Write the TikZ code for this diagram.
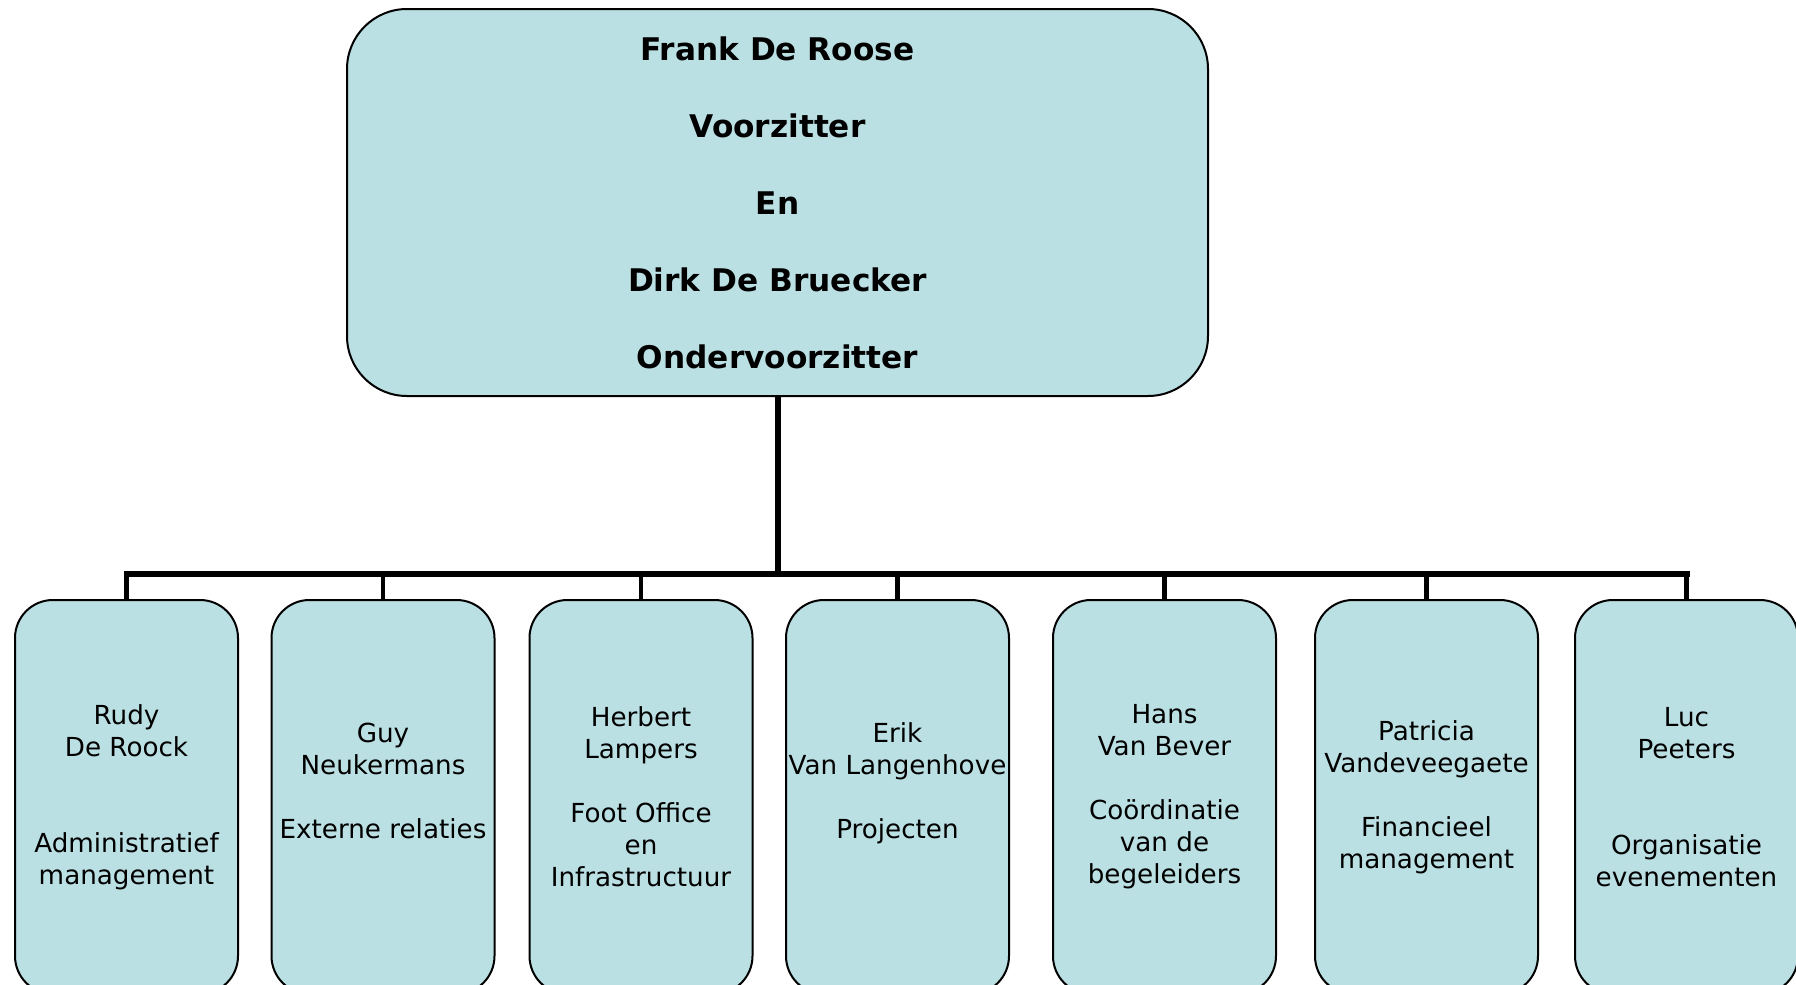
\documentclass[tikz,border=0pt]{standalone}
\usepackage{fontspec}
\setmainfont{DejaVu Sans}
\usetikzlibrary{positioning}

\definecolor{boxblue}{RGB}{187,224,227}

\tikzset{
    chief/.style  = {draw, fill = boxblue, line width = 1pt, rounded corners = 30pt,
                     minimum width = 430.5pt, minimum height = 193.5pt, align = center,
                     font = \bfseries\fontsize{15.6}{38.5}\selectfont},
    member/.style = {draw, fill = boxblue, line width = 1pt, rounded corners = 19pt,
                     minimum width = 111.5pt, minimum height = 197pt, inner sep = 0pt,
                     align = center, font = \fontsize{13.1}{16}\selectfont},
    bus/.style    = {line width = 3pt, line cap = rect},
    drop/.style   = {line width = 2.3pt}
}

\begin{document}
\begin{tikzpicture}[x = 0.5pt, y = -0.5pt, black]

    \clip[use as bounding box] (0,0) rectangle (1796,985);

    \def\busY{574}
    \def\rowY{797}

    \node[chief] (Board) at (777.5,202.5)
        {Frank De Roose\\Voorzitter\\En\\Dirk De Bruecker\\Ondervoorzitter};

    \foreach \NAME/\X/\TEXT in {
        Rudy/126.5/{Rudy\\De Roock\\[32pt]Administratief\\management},
        Guy/383/{Guy\\Neukermans\\[16pt]Externe relaties\\\mbox{}},
        Herbert/641/{Herbert\\Lampers\\[16pt]Foot Office\\en\\Infrastructuur},
        Erik/897.5/{Erik\\Van Langenhove\\[16pt]Projecten\\\mbox{}},
        Hans/1164.5/{Hans\\Van Bever\\[16pt]Co\"ordinatie\\van de\\begeleiders},
        Patricia/1426.5/{Patricia\\Vandeveegaete\\[16pt]Financieel\\management},
        Luc/1686.5/{Luc\\Peeters\\[32pt]Organisatie\\evenementen}}
        {\node[member] (\NAME) at (\X,\rowY) {\TEXT};}

    \coordinate (Bus) at (Board.south |- 0,\busY);

    % trunk and bus
    \draw[line width = 3pt] (Board.south) -- (Bus);
    \draw[bus] (Rudy.north |- Bus) -- (Luc.north |- Bus);

    \foreach \NAME in {Rudy, Guy, Herbert, Erik, Hans, Patricia, Luc}
        {\draw[drop] (\NAME.north |- Bus) -- (\NAME.north);}

\end{tikzpicture}
\end{document}
